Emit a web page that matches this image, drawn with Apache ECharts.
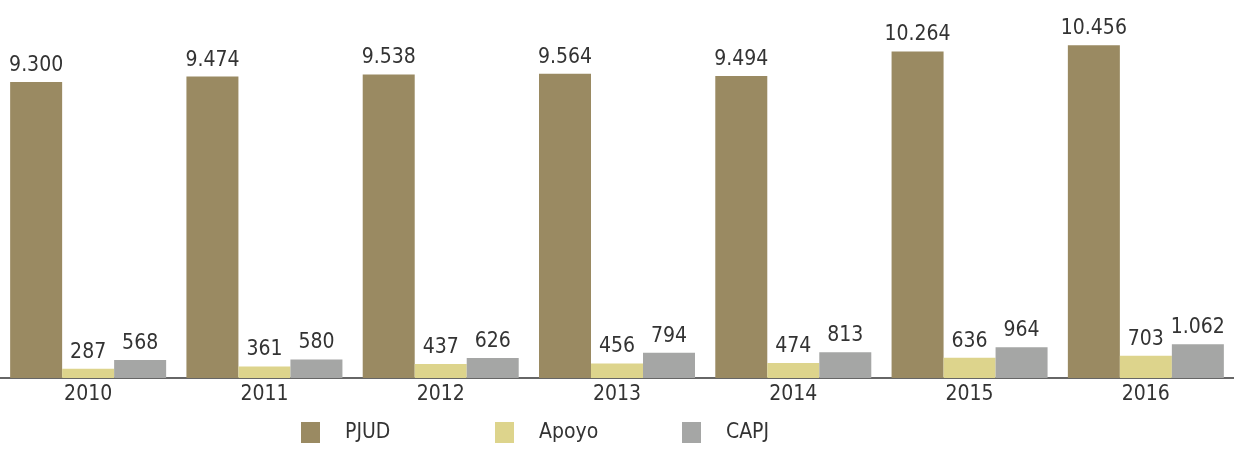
<!DOCTYPE html>
<html>
<head>
<meta charset="utf-8">
<script src="https://cdn.jsdelivr.net/npm/echarts@6/dist/echarts.min.js"></script>
<style>
	html, body { margin: 0; padding: 0; background: #fff; }
	#chart { width: 1234px; height: 451px; }
</style>
</head>
<body>
<div id="chart"></div>
<script>
const years = ['2010', '2011', '2012', '2013', '2014', '2015', '2016'];
const seriesNames = ['PJUD', 'Apoyo', 'CAPJ'];
const pjud = [9300, 9474, 9538, 9564, 9494, 10264, 10456];
const apoyo = [287, 361, 437, 456, 474, 636, 703];
const capj = [568, 580, 626, 794, 813, 964, 1062];

const FONT = '"DejaVu Sans Condensed", "Roboto", sans-serif';
const TEXT = '#333333';
const COLORS = ['#9a8a62', '#ddd48c', '#a5a6a5'];

// 10456 -> "10.456"
const fmt = (v) => String(v).replace(/\B(?=(\d{3})+(?!\d))/g, '.');

const chart = echarts.init(document.getElementById('chart'));

const barLabel = {
	show: true,
	position: 'top',
	distance: 6,
	color: TEXT,
	fontFamily: FONT,
	fontSize: 21,
	formatter: (p) => fmt(p.value)
};

const makeSeries = (name, data, color) => ({
	name: name,
	type: 'bar',
	data: data,
	barWidth: 52,
	barGap: '0%',
	itemStyle: { color: color },
	label: barLabel,
	emphasis: { disabled: true }
});

// one legend per entry so the spacing matches the original
const legendLefts = [296, 490, 677];
const legends = seriesNames.map((name, i) => ({
	left: legendLefts[i],
	top: 417,
	itemWidth: 19,
	itemHeight: 21,
	icon: 'rect',
	textStyle: {
		color: TEXT,
		fontFamily: FONT,
		fontSize: 21,
		padding: [0, 0, 0, 20]
	},
	data: [name]
}));

const option = {
	animation: false,
	grid: { left: 0, right: 0, top: 28, bottom: 73 },
	legend: legends,
	xAxis: {
		type: 'category',
		data: years,
		axisLine: { lineStyle: { color: '#333333', width: 1.5 } },
		axisTick: { show: false },
		axisLabel: {
			color: TEXT,
			fontFamily: FONT,
			fontSize: 21,
			margin: 6
		}
	},
	yAxis: {
		type: 'value',
		min: 0,
		max: 11000,
		show: false,
		splitLine: { show: false }
	},
	series: [
		makeSeries(seriesNames[0], pjud, COLORS[0]),
		makeSeries(seriesNames[1], apoyo, COLORS[1]),
		makeSeries(seriesNames[2], capj, COLORS[2])
	]
};

chart.setOption(option);
</script>
</body>
</html>
